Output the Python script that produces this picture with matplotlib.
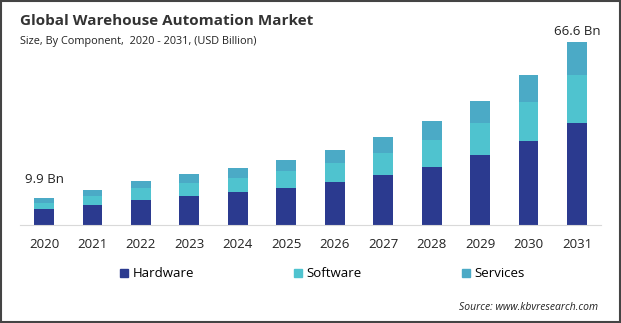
import numpy as np
import matplotlib.pyplot as plt
import matplotlib.patches as mpatches

plt.rcParams['font.family'] = ['Open Sans', 'DejaVu Sans']

years = ['2020', '2021', '2022', '2023', '2024', '2025',
         '2026', '2027', '2028', '2029', '2030', '2031']
hardware = [5.8, 7.3, 9.1, 10.6, 12.0, 13.5, 15.6, 18.2, 21.2, 25.5, 30.6, 37.1]
software = [2.3, 3.3, 4.4, 4.8, 5.1, 6.3, 7.0, 8.1, 9.7, 11.6, 14.2, 17.6]
services = [1.8, 2.2, 2.5, 3.2, 3.6, 3.9, 4.6, 5.7, 6.9, 8.0, 9.8, 11.9]
series_names = ['Hardware', 'Software', 'Services']
colors = ['#2B3A8F', '#4FC3CF', '#4BAAC6']

fig = plt.figure(figsize=(6.21, 3.23), dpi=100)
ax = fig.add_axes([0.032, 0.3034, 0.936, 0.604])

x = np.arange(len(years))
hw = np.array(hardware)
sw = np.array(software)
sv = np.array(services)
w = 0.41
ax.bar(x, hw, w, color=colors[0])
ax.bar(x, sw, w, bottom=hw, color=colors[1])
ax.bar(x, sv, w, bottom=hw + sw, color=colors[2])

ax.set_xlim(-0.5, len(years) - 0.5)
ax.set_ylim(0, 70.96)
ax.set_xticks(x)
ax.set_xticklabels(years, fontsize=9.5, color='#222222')
ax.tick_params(axis='x', length=0, pad=9)
ax.set_yticks([])
for s in ['top', 'right', 'left']:
    ax.spines[s].set_visible(False)
ax.spines['bottom'].set_color('#D9D9D9')

tot = hw + sw + sv
ax.text(x[0], tot[0] + 6.8, '9.9 Bn', fontsize=9.5, ha='center', va='center', color='#222222')
ax.text(x[-1], tot[-1] + 1.5, '66.6 Bn', fontsize=9.5, ha='center', va='bottom', color='#222222')

fig.text(0.032, 0.935, 'Global Warehouse Automation Market', fontsize=11, fontweight='bold',
         color='#333333', va='center')
fig.text(0.032, 0.872, 'Size, By Component,  2020 - 2031, (USD Billion)', fontsize=7.8,
         color='#222222', va='center')

handles = [mpatches.Patch(color=c, label=n) for c, n in zip(colors, series_names)]
fig.legend(handles=handles, loc='center left', bbox_to_anchor=(0.193, 0.152), ncol=3,
           frameon=False, fontsize=9.5, handlelength=0.6, handleheight=0.6,
           handletextpad=0.35, columnspacing=7.6, borderaxespad=0, borderpad=0)

fig.text(0.963, 0.048, 'Source: www.kbvresearch.com', fontsize=7.5, style='italic',
         color='#222222', ha='right', va='center')

fig.add_artist(mpatches.Rectangle((0.002, 0.003), 0.996, 0.994, transform=fig.transFigure,
                                  fill=False, edgecolor='#444444', linewidth=1.5))

fig.savefig('out.png', dpi=100)
